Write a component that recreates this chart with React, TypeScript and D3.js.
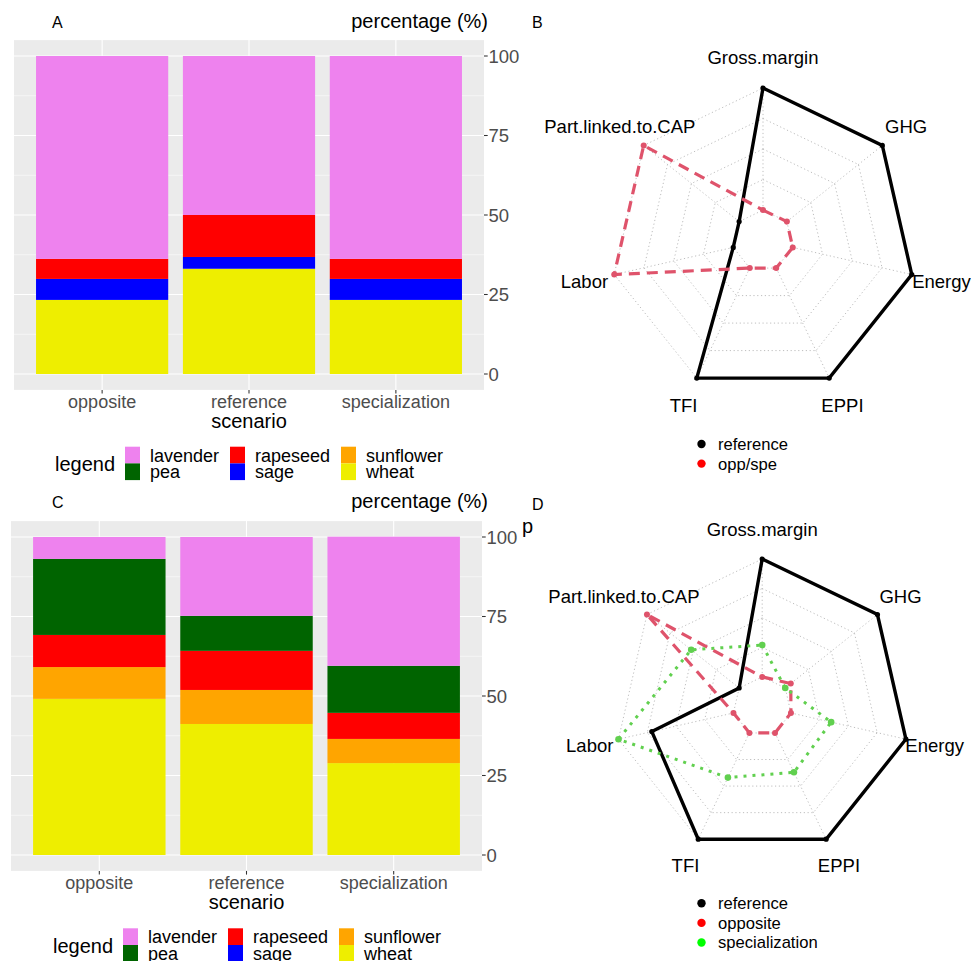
import { useEffect, useRef } from "react"
import * as d3 from "d3";

const scenarios = ["opposite", "reference", "specialization"];
const crops = ["lavender", "pea", "rapeseed", "sage", "sunflower", "wheat"];
const cropColors = ["#EE82EE", "#006400", "#FF0000", "#0000FF", "#FFA500", "#EEEE00"];
const yTicks = [0, 25, 50, 75, 100];

// panel A shares (%)
const lavenderA = [63.8, 50.0, 63.8];
const peaA = [0, 0, 0];
const rapeseedA = [6.3, 13.2, 6.3];
const sageA = [6.6, 3.7, 6.6];
const sunflowerA = [0, 0, 0];
const wheatA = [23.3, 33.1, 23.3];

// panel C shares (%)
const lavenderC = [6.9, 24.8, 40.6];
const peaC = [23.9, 11.0, 14.8];
const rapeseedC = [10.1, 12.3, 8.2];
const sageC = [0, 0, 0];
const sunflowerC = [10.0, 10.7, 7.6];
const wheatC = [49.1, 41.2, 28.9];

// radar indicators (normalised 0..1)
const indicators = ["Gross.margin", "GHG", "Energy", "EPPI", "TFI", "Labor", "Part.linked.to.CAP"];
const referenceB = [1, 1, 1, 1, 1, 0, 0];
const oppSpeB = [0, 0, 0, 0, 0, 1, 1];
const referenceD = [1, 1, 1, 1, 1, 0.71, 0];
const oppositeD = [0, 0.06, 0, 0, 0, 0, 1];
const specializationD = [0.27, 0, 0.35, 0.37, 0.42, 1, 0.52];

const FONT = "'Liberation Sans', Arial, Helvetica, sans-serif";

function drawBars(svg, o, cols) {
    const rows = scenarios.map((s, i) => {
        const r = { scenario: s };
        crops.forEach((c, k) => { r[c] = cols[k][i] });
        return r;
    });

    const x = d3.scalePoint().domain(scenarios).range([o.left, o.right]).padding(0.6);
    const step = x.step();
    const y = d3.scaleLinear().domain([0, 100]).range([o.zero, o.hundred]);
    const g = svg.append("g");

    g.append("rect")
        .attr("x", o.left).attr("y", y(105))
        .attr("width", o.right - o.left).attr("height", y(-5) - y(105))
        .attr("fill", "#EBEBEB");

    // minor grid
    g.selectAll(".minor").data([12.5, 37.5, 62.5, 87.5]).join("line")
        .attr("x1", o.left).attr("x2", o.right)
        .attr("y1", d => y(d)).attr("y2", d => y(d))
        .attr("stroke", "#fff").attr("stroke-width", 0.55);
    g.selectAll(".major").data(yTicks).join("line")
        .attr("x1", o.left).attr("x2", o.right)
        .attr("y1", d => y(d)).attr("y2", d => y(d))
        .attr("stroke", "#fff").attr("stroke-width", 1.1);
    g.selectAll(".vmajor").data(scenarios).join("line")
        .attr("x1", d => x(d)).attr("x2", d => x(d))
        .attr("y1", y(-5)).attr("y2", y(105))
        .attr("stroke", "#fff").attr("stroke-width", 1.1);

    const stack = d3.stack().keys([...crops].reverse())(rows);
    const color = d3.scaleOrdinal().domain(crops).range(cropColors);
    const bw = step * 0.9;
    stack.forEach(layer => {
        g.append("g").selectAll("rect").data(layer).join("rect")
            .attr("x", d => x(d.data.scenario) - bw / 2)
            .attr("width", bw)
            .attr("y", d => y(d[1]))
            .attr("height", d => y(d[0]) - y(d[1]))
            .attr("fill", color(layer.key));
    });

    // right axis
    g.selectAll(".ytick").data(yTicks).join("line")
        .attr("x1", o.right).attr("x2", o.right + 3.7)
        .attr("y1", d => y(d)).attr("y2", d => y(d))
        .attr("stroke", "#333").attr("stroke-width", 1.07);
    g.selectAll(".ylab").data(yTicks).join("text")
        .attr("x", o.right + 4.5).attr("y", d => y(d))
        .attr("dy", "0.36em")
        .attr("fill", "#4D4D4D").style("font-size", "18.5px")
        .text(d => d);

    // bottom axis
    g.selectAll(".xtick").data(scenarios).join("line")
        .attr("x1", d => x(d)).attr("x2", d => x(d))
        .attr("y1", y(-5)).attr("y2", y(-5) + 3.7)
        .attr("stroke", "#333").attr("stroke-width", 1.07);
    g.selectAll(".xlab").data(scenarios).join("text")
        .attr("x", d => x(d)).attr("y", o.xlabBase)
        .attr("text-anchor", "middle")
        .attr("fill", "#4D4D4D").style("font-size", "18px")
        .text(d => d);

    g.append("text").attr("x", (o.left + o.right) / 2).attr("y", o.xtitleBase)
        .attr("text-anchor", "middle").style("font-size", "20px").text("scenario");
    g.append("text").attr("x", 488).attr("y", o.ytitleBase)
        .attr("text-anchor", "end").style("font-size", "20px").text("percentage (%)");
    g.append("text").attr("x", 52).attr("y", o.ytitleBase)
        .style("font-size", "16px").text(o.tag);

    // legend
    const lg = g.append("g");
    lg.append("text").attr("x", o.legX).attr("y", o.legTop + 24.3)
        .style("font-size", "20px").text("legend");
    crops.forEach((c, k) => {
        const col = Math.floor(k / 2), row = k % 2;
        const kx = o.keyX[col], ky = o.legTop + row * 16.7;
        lg.append("rect").attr("x", kx).attr("y", ky)
            .attr("width", 15).attr("height", 16.7)
            .attr("fill", cropColors[k]);
        lg.append("text").attr("x", kx + 25).attr("y", ky + 15)
            .style("font-size", "18px").text(c);
    });
}

function drawRadar(svg, o, series) {
    const n = indicators.length;
    const ang = i => Math.PI / 2 - i * 2 * Math.PI / n;
    const r = d3.scaleLinear().domain([0, 1]).range([0.2 * o.R, o.R]);
    const pt = (i, rad) => [o.cx + rad * Math.cos(ang(i)), o.cy - rad * Math.sin(ang(i))];
    const g = svg.append("g");

    const levels = [0.2, 0.4, 0.6, 0.8, 1.0];
    g.selectAll(".ring").data(levels).join("polygon")
        .attr("points", l => indicators.map((_, i) => pt(i, l * o.R).join(",")).join(" "))
        .attr("fill", "none").attr("stroke", "#BEBEBE")
        .attr("stroke-width", 1).attr("stroke-dasharray", "1.2 2.6");
    g.selectAll(".spoke").data(indicators).join("line")
        .attr("x1", (_, i) => pt(i, 0.2 * o.R)[0]).attr("y1", (_, i) => pt(i, 0.2 * o.R)[1])
        .attr("x2", (_, i) => pt(i, o.R)[0]).attr("y2", (_, i) => pt(i, o.R)[1])
        .attr("stroke", "#BEBEBE").attr("stroke-width", 1).attr("stroke-dasharray", "1.2 2.6");

    g.selectAll(".vlab").data(indicators).join("text")
        .attr("x", (_, i) => pt(i, 1.2 * o.R)[0])
        .attr("y", (_, i) => pt(i, 1.2 * o.R)[1])
        .attr("text-anchor", "middle").attr("dy", "0.36em")
        .style("font-size", "18.5px")
        .text(d => d);

    series.forEach(s => {
        const pts = s.values.map((v, i) => pt(i, r(v)));
        g.append("polygon")
            .attr("points", pts.map(p => p.join(",")).join(" "))
            .attr("fill", "none").attr("stroke", s.color)
            .attr("stroke-width", s.width)
            .attr("stroke-dasharray", s.dash);
        g.append("g").selectAll("circle").data(pts).join("circle")
            .attr("cx", p => p[0]).attr("cy", p => p[1])
            .attr("r", s.pr).attr("fill", s.color);
    });

    g.append("text").attr("x", 532).attr("y", o.tagBase)
        .style("font-size", "16px").text(o.tag);

    o.legend.forEach((l, k) => {
        const ly = o.legY + k * 19.6;
        g.append("circle").attr("cx", 701.5).attr("cy", ly).attr("r", 4.2).attr("fill", l.color);
        g.append("text").attr("x", 718).attr("y", ly).attr("dy", "0.36em")
            .style("font-size", "16.6px").text(l.label);
    });
}

export default function App() {
    const svgRef = useRef();

    useEffect(() => {
        const svg = d3.select(svgRef.current);
        svg.selectAll("*").remove();
        svg.style("font-family", FONT);

        drawBars(svg, {
            left: 14, right: 484, zero: 374, hundred: 56,
            xlabBase: 407.5, xtitleBase: 427.7, ytitleBase: 27.5, tag: "A",
            legTop: 446.7, legX: 55, keyX: [125, 230, 341]
        }, [lavenderA, peaA, rapeseedA, sageA, sunflowerA, wheatA]);

        drawBars(svg, {
            left: 11, right: 482, zero: 855, hundred: 537,
            xlabBase: 888.5, xtitleBase: 908.5, ytitleBase: 508, tag: "C",
            legTop: 928.3, legX: 53, keyX: [123, 228, 339]
        }, [lavenderC, peaC, rapeseedC, sageC, sunflowerC, wheatC]);

        drawRadar(svg, {
            cx: 763, cy: 240.6, R: 152.6, tag: "B", tagBase: 28,
            legY: 444, legend: [{ label: "reference", color: "#000" }, { label: "opp/spe", color: "#FF0000" }]
        }, [
            { values: referenceB, color: "#000", width: 3.4, dash: null, pr: 2.6 },
            { values: oppSpeB, color: "#DF536B", width: 3.2, dash: "11 7", pr: 3 }
        ]);

        drawRadar(svg, {
            cx: 762.2, cy: 706.4, R: 147.4, tag: "D", tagBase: 510,
            legY: 903.3, legend: [
                { label: "reference", color: "#000" },
                { label: "opposite", color: "#FF0000" },
                { label: "specialization", color: "#00FF00" }
            ]
        }, [
            { values: referenceD, color: "#000", width: 3.4, dash: null, pr: 2.6 },
            { values: oppositeD, color: "#DF536B", width: 3.2, dash: "11 7", pr: 3 },
            { values: specializationD, color: "#61D04F", width: 3, dash: "3 6", pr: 3.3 }
        ]);

        // stray glyph next to panel C axis
        svg.append("text").attr("x", 522).attr("y", 533).style("font-size", "20px").text("p");
    }, [])

    return (
        <svg ref={svgRef} width={971} height={961}
            style={{ position: "absolute", left: 0, top: 0, background: "#fff" }}></svg>
    )
}
